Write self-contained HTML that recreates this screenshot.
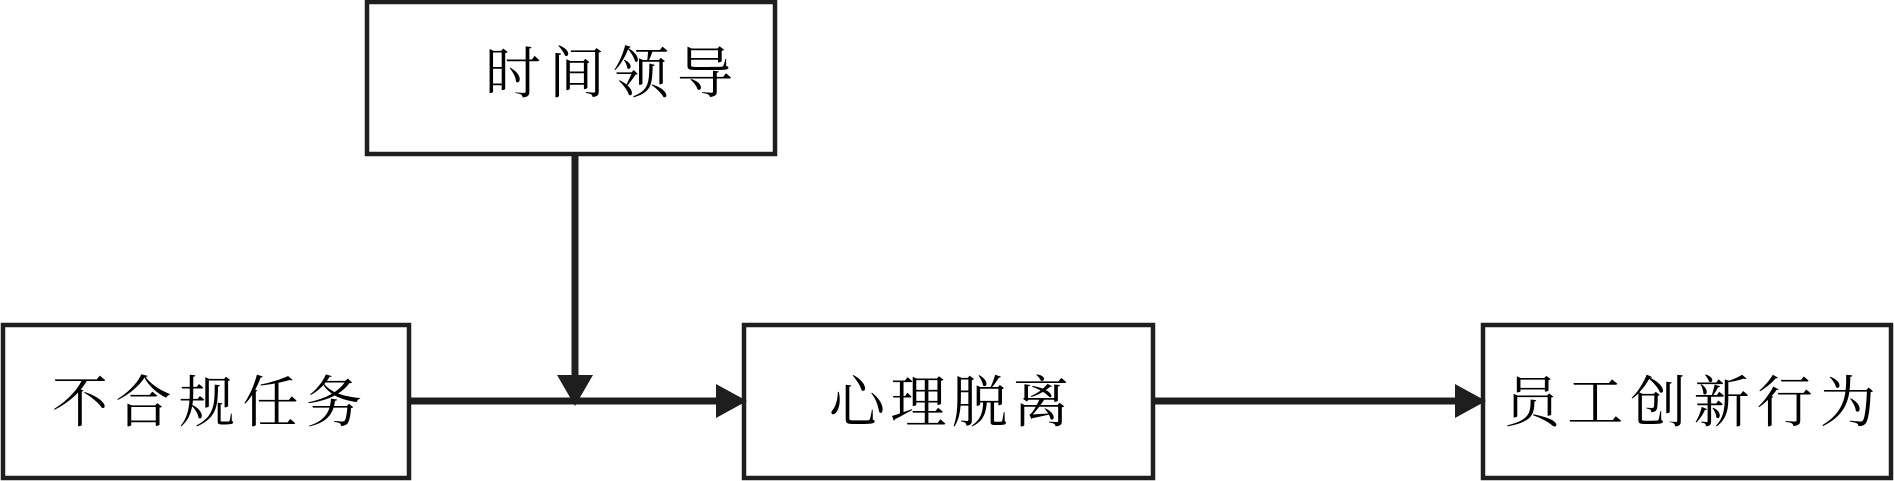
<!DOCTYPE html>
<html><head><meta charset="utf-8"><style>
html,body{margin:0;padding:0;background:#fff;width:1894px;height:481px;overflow:hidden}
svg text{font-family:"Liberation Serif","Noto Serif CJK SC",serif;font-size:56px;fill:#000}
</style></head><body>
<svg width="1894" height="481" viewBox="0 0 1894 481" xmlns="http://www.w3.org/2000/svg">
<g fill="#fff" stroke="#1e1e1e" stroke-width="4.5">
<rect x="367" y="2" width="408" height="152"/>
<rect x="3" y="325" width="406" height="153"/>
<rect x="744" y="325" width="409" height="153"/>
<rect x="1483" y="325" width="408" height="153"/>
</g>
<g stroke="#1e1e1e" stroke-width="7" fill="none">
<line x1="575" y1="154" x2="575" y2="385"/>
<line x1="409" y1="401" x2="725" y2="401"/>
<line x1="1153" y1="401" x2="1463" y2="401"/>
</g>
<g fill="#1e1e1e">
<polygon points="557,375 593,375 575,406"/>
<polygon points="716,384 747,401 716,418"/>
<polygon points="1455,384 1486,401 1455,418"/>
</g>
<text x="485" y="93" textLength="248" lengthAdjust="spacing">时间领导</text>
<text x="52" y="422" textLength="310" lengthAdjust="spacing">不合规任务</text>
<text x="829" y="422" textLength="240" lengthAdjust="spacing">心理脱离</text>
<text x="1504" y="422" textLength="372" lengthAdjust="spacing">员工创新行为</text>
</svg>
</body></html>
